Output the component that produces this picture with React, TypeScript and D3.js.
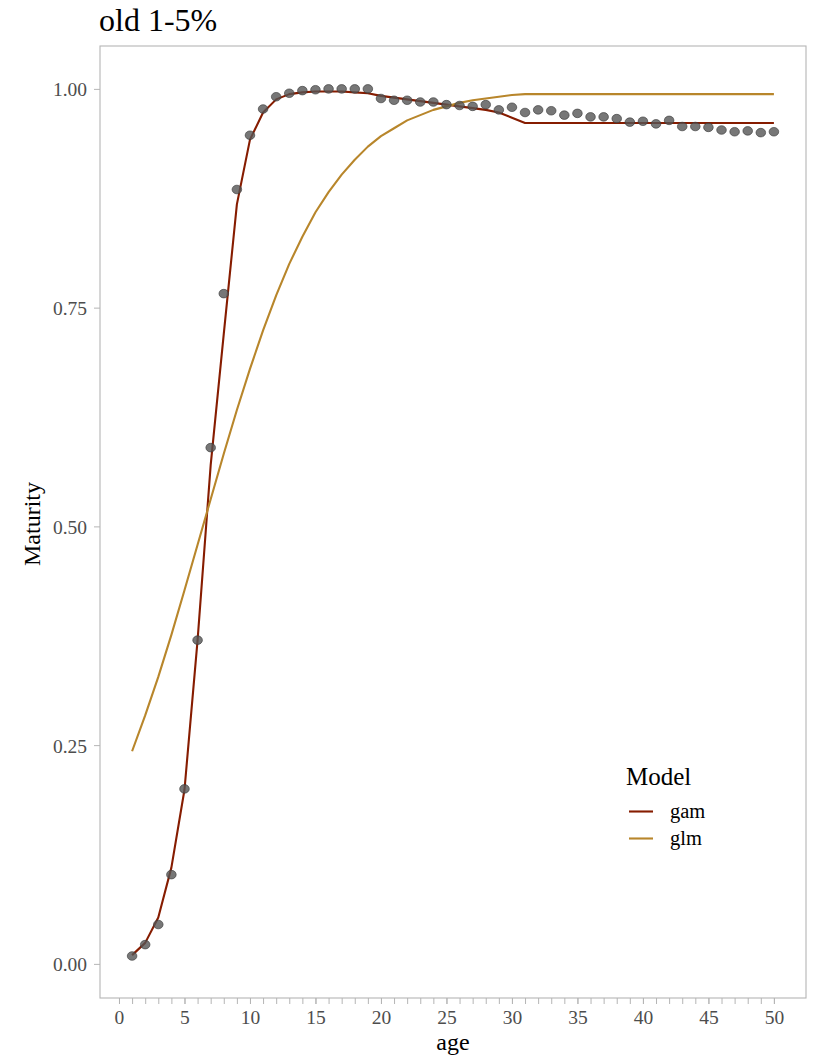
import React, { useEffect, useRef } from "react";
import * as d3 from "d3";

const ages = d3.range(1, 51);

// observed maturity by age
const observed = [
  0.009, 0.022, 0.045, 0.102, 0.2, 0.37, 0.59, 0.766, 0.885, 0.947,
  0.977, 0.991, 0.995, 0.998, 0.999, 1.0, 1.0, 1.0, 1.0, 0.989,
  0.987, 0.987, 0.985, 0.985, 0.982, 0.981, 0.98, 0.982, 0.976, 0.979,
  0.973, 0.976, 0.975, 0.97, 0.972, 0.968, 0.968, 0.966, 0.962, 0.963,
  0.96, 0.964, 0.957, 0.957, 0.956, 0.953, 0.951, 0.952, 0.95, 0.951,
];

const gamFit = [
  0.01, 0.024, 0.053, 0.11, 0.199, 0.37, 0.57, 0.72, 0.868, 0.942,
  0.973, 0.988, 0.994, 0.996, 0.997, 0.997, 0.997, 0.996, 0.995, 0.992,
  0.99, 0.988, 0.986, 0.984, 0.982, 0.98, 0.978, 0.976, 0.973, 0.967,
  0.961, 0.961, 0.961, 0.961, 0.961, 0.961, 0.961, 0.961, 0.961, 0.961,
  0.961, 0.961, 0.961, 0.961, 0.961, 0.961, 0.961, 0.961, 0.961, 0.961,
];

const glmFit = [
  0.243, 0.284, 0.328, 0.376, 0.427, 0.479, 0.531, 0.583, 0.633, 0.68,
  0.724, 0.764, 0.8, 0.831, 0.859, 0.882, 0.902, 0.919, 0.934, 0.946,
  0.955, 0.964, 0.97, 0.976, 0.98, 0.984, 0.987, 0.989, 0.991, 0.993,
  0.994, 0.994, 0.994, 0.994, 0.994, 0.994, 0.994, 0.994, 0.994, 0.994,
  0.994, 0.994, 0.994, 0.994, 0.994, 0.994, 0.994, 0.994, 0.994, 0.994,
];

const models = ["gam", "glm"];
const modelColors = ["#861c00", "#b8862b"];
const yTicks = [0, 0.25, 0.5, 0.75, 1];
const xTicks = [0, 5, 10, 15, 20, 25, 30, 35, 40, 45, 50];
const xMinor = d3.range(0, 51);

export default function App() {
  const svgRef = useRef<SVGSVGElement | null>(null);

  useEffect(() => {
    const svg = d3.select(svgRef.current);
    svg.selectAll("*").remove();

    const width = 818;
    const height = 1060;
    const panel = { left: 100, right: 806, top: 46, bottom: 998 };
    const font = "'Liberation Serif', 'Times New Roman', serif";

    const x = d3.scaleLinear().domain([-1.45, 52.45]).range([panel.left, panel.right]);
    const y = d3.scaleLinear().domain([-0.039, 1.049]).range([panel.bottom, panel.top]);

    svg.attr("width", width).attr("height", height);

    // panel border
    svg
      .append("rect")
      .attr("x", panel.left)
      .attr("y", panel.top)
      .attr("width", panel.right - panel.left)
      .attr("height", panel.bottom - panel.top)
      .attr("fill", "white")
      .attr("stroke", "#b5b5b5")
      .attr("stroke-width", 1.1);

    // y axis
    const gy = svg
      .append("g")
      .attr("transform", `translate(${panel.left},0)`)
      .call(
        d3.axisLeft(y)
          .tickValues(yTicks)
          .tickFormat(d3.format(".2f"))
          .tickSize(6)
          .tickPadding(7)
      );
    gy.select(".domain").remove();
    gy.selectAll(".tick line").attr("stroke", "#b5b5b5");
    gy.selectAll("text")
      .attr("fill", "#4d4d4d")
      .attr("dy", "0.36em")
      .style("font-family", font)
      .style("font-size", "19.5px");

    // x axis: minor ticks every year, labels every 5
    const gxMinor = svg
      .append("g")
      .attr("transform", `translate(0,${panel.bottom})`)
      .call(d3.axisBottom(x).tickValues(xMinor).tickFormat(() => "").tickSize(6));
    gxMinor.select(".domain").remove();
    gxMinor.selectAll(".tick line").attr("stroke", "#b5b5b5");

    const gx = svg
      .append("g")
      .attr("transform", `translate(0,${panel.bottom})`)
      .call(d3.axisBottom(x).tickValues(xTicks).tickFormat(d3.format("d")).tickSize(6).tickPadding(6));
    gx.select(".domain").remove();
    gx.selectAll(".tick line").attr("stroke", "#b5b5b5");
    gx.selectAll("text")
      .attr("fill", "#4d4d4d")
      .style("font-family", font)
      .style("font-size", "19.5px");

    // fitted lines
    const lineGen = d3
      .line<number>()
      .x((d, i) => x(ages[i]))
      .y((d) => y(d));

    [gamFit, glmFit].forEach((series, k) => {
      svg
        .append("path")
        .datum(series)
        .attr("fill", "none")
        .attr("stroke", modelColors[k])
        .attr("stroke-width", 2.1)
        .attr("stroke-linejoin", "round")
        .attr("d", lineGen);
    });

    // observed points
    svg
      .append("g")
      .selectAll("ellipse")
      .data(observed)
      .enter()
      .append("ellipse")
      .attr("cx", (d, i) => x(ages[i]))
      .attr("cy", (d) => y(d))
      .attr("rx", 4.8)
      .attr("ry", 4.3)
      .attr("fill", "#555555")
      .attr("fill-opacity", 0.8)
      .attr("stroke", "#3a3a3a")
      .attr("stroke-opacity", 0.8)
      .attr("stroke-width", 0.8);

    // title
    svg
      .append("text")
      .attr("x", 99)
      .attr("y", 31)
      .attr("fill", "black")
      .style("font-family", font)
      .style("font-size", "32px")
      .text("old 1-5%");

    // axis titles
    svg
      .append("text")
      .attr("x", (panel.left + panel.right) / 2)
      .attr("y", 1050)
      .attr("text-anchor", "middle")
      .style("font-family", font)
      .style("font-size", "24px")
      .text("age");

    svg
      .append("text")
      .attr("transform", `translate(40,${(panel.top + panel.bottom) / 2 + 2}) rotate(-90)`)
      .attr("text-anchor", "middle")
      .style("font-family", font)
      .style("font-size", "24px")
      .text("Maturity");

    // legend
    const legend = svg.append("g").attr("transform", "translate(626,0)");
    legend
      .append("text")
      .attr("x", 0)
      .attr("y", 785)
      .style("font-family", font)
      .style("font-size", "25px")
      .text("Model");

    models.forEach((m, i) => {
      const ly = 811.5 + i * 27;
      legend
        .append("line")
        .attr("x1", 3)
        .attr("x2", 27)
        .attr("y1", ly)
        .attr("y2", ly)
        .attr("stroke", modelColors[i])
        .attr("stroke-width", 2.1);
      legend
        .append("text")
        .attr("x", 44)
        .attr("y", ly + 6.5)
        .style("font-family", font)
        .style("font-size", "20.5px")
        .text(m);
    });
  }, []);

  return (
    <div style={{ position: "absolute", left: 0, top: 0 }}>
      <svg ref={svgRef} style={{ display: "block" }}></svg>
    </div>
  );
}
